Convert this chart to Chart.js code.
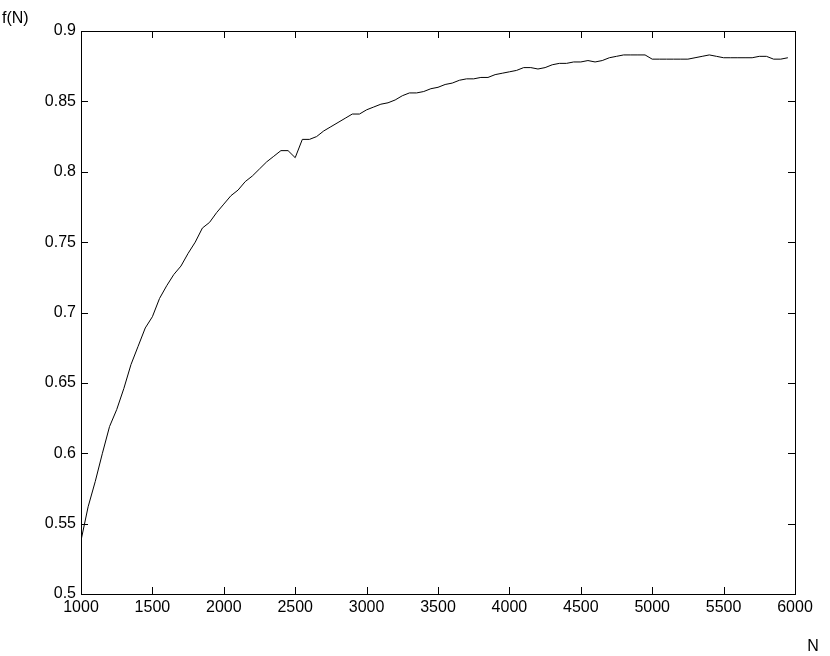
<!DOCTYPE html>
<html>
<head>
<meta charset="utf-8">
<script src="https://cdn.jsdelivr.net/npm/chart.js@4/dist/chart.umd.min.js"></script>
<style>
html,body{margin:0;padding:0;background:#fff;}
canvas{display:block;}
</style>
</head>
<body>
<canvas id="c" width="830" height="656"></canvas>
<script>
const nValues = [1000,1050,1100,1150,1200,1250,1300,1350,1400,1450,1500,1550,1600,1650,1700,1750,1800,1850,1900,1950,
2000,2050,2100,2150,2200,2250,2300,2350,2400,2450,2500,2550,2600,2650,2700,2750,2800,2850,2900,2950,
3000,3050,3100,3150,3200,3250,3300,3350,3400,3450,3500,3550,3600,3650,3700,3750,3800,3850,3900,3950,
4000,4050,4100,4150,4200,4250,4300,4350,4400,4450,4500,4550,4600,4650,4700,4750,4800,4850,4900,4950,
5000,5050,5100,5150,5200,5250,5300,5350,5400,5450,5500,5550,5600,5650,5700,5750,5800,5850,5900,5950];
const fValues = [0.538,0.562,0.580,0.600,0.619,0.631,0.646,0.663,0.676,0.689,0.697,0.710,0.719,0.727,0.733,0.742,0.750,0.760,0.764,0.771,
0.777,0.783,0.787,0.793,0.797,0.802,0.807,0.811,0.815,0.815,0.810,0.823,0.823,0.825,0.829,0.832,0.835,0.838,0.841,0.841,
0.844,0.846,0.848,0.849,0.851,0.854,0.856,0.856,0.857,0.859,0.860,0.862,0.863,0.865,0.866,0.866,0.867,0.867,0.869,0.870,
0.871,0.872,0.874,0.874,0.873,0.874,0.876,0.877,0.877,0.878,0.878,0.879,0.878,0.879,0.881,0.882,0.883,0.883,0.883,0.883,
0.880,0.880,0.880,0.880,0.880,0.880,0.881,0.882,0.883,0.882,0.881,0.881,0.881,0.881,0.881,0.882,0.882,0.880,0.880,0.881];
const xTicks = [1000,1500,2000,2500,3000,3500,4000,4500,5000,5500,6000];
const yTicks = [0.5,0.55,0.6,0.65,0.7,0.75,0.8,0.85,0.9];
const yLabel = 'f(N)';
const xLabel = 'N';

const FONT = 'Liberation Sans, Arial, Helvetica, sans-serif';

const boxPlugin = {
  id: 'box',
  afterDraw(chart) {
    const ctx = chart.ctx;
    const a = chart.chartArea;
    const xs = chart.scales.x, ys = chart.scales.y;
    ctx.save();
    ctx.strokeStyle = '#000';
    ctx.lineWidth = 1;
    ctx.strokeRect(Math.round(a.left)+0.5, Math.round(a.top)+0.5, Math.round(a.right-a.left), Math.round(a.bottom-a.top));
    const L = 7;
    ctx.beginPath();
    xTicks.forEach(v => {
      const p = Math.round(xs.getPixelForValue(v)) + 0.5;
      ctx.moveTo(p, a.bottom); ctx.lineTo(p, a.bottom - L);
      ctx.moveTo(p, a.top); ctx.lineTo(p, a.top + L);
    });
    yTicks.forEach(v => {
      const p = Math.round(ys.getPixelForValue(v)) + 0.5;
      ctx.moveTo(a.left, p); ctx.lineTo(a.left + L, p);
      ctx.moveTo(a.right, p); ctx.lineTo(a.right - L, p);
    });
    ctx.stroke();
    ctx.fillStyle = '#000';
    ctx.font = '16px ' + FONT;
    ctx.textBaseline = 'middle';
    ctx.textAlign = 'left';
    ctx.fillText(yLabel, 2, 19);
    ctx.textAlign = 'center';
    ctx.fillText(xLabel, 813, 647);
    ctx.restore();
  }
};

new Chart(document.getElementById('c'), {
  type: 'line',
  data: {
    datasets: [{
      data: nValues.map((n, i) => ({x: n, y: fValues[i]})),
      borderColor: '#000',
      borderWidth: 1,
      pointRadius: 0,
      tension: 0,
      fill: false
    }]
  },
  options: {
    responsive: false,
    animation: false,
    layout: { padding: { left: 0, top: 31, right: 35, bottom: 0 } },
    plugins: { legend: { display: false }, tooltip: { enabled: false } },
    scales: {
      x: {
        type: 'linear', min: 1000, max: 6000,
        afterFit(s) { s.height = 62; },
        afterBuildTicks(s) { s.ticks = xTicks.map(v => ({value: v})); },
        grid: { display: false, drawTicks: false },
        border: { display: false },
        ticks: { color: '#000', font: { family: FONT, size: 16 }, padding: 4, maxRotation: 0, autoSkip: false,
          callback: v => String(v) }
      },
      y: {
        type: 'linear', min: 0.5, max: 0.9,
        afterFit(s) { s.width = 81; },
        afterBuildTicks(s) { s.ticks = yTicks.map(v => ({value: v})); },
        grid: { display: false, drawTicks: false },
        border: { display: false },
        ticks: { color: '#000', font: { family: FONT, size: 16 }, padding: 5, autoSkip: false,
          callback: v => String(Number(v.toFixed(2))) }
      }
    }
  },
  plugins: [boxPlugin]
});
</script>
</body>
</html>
